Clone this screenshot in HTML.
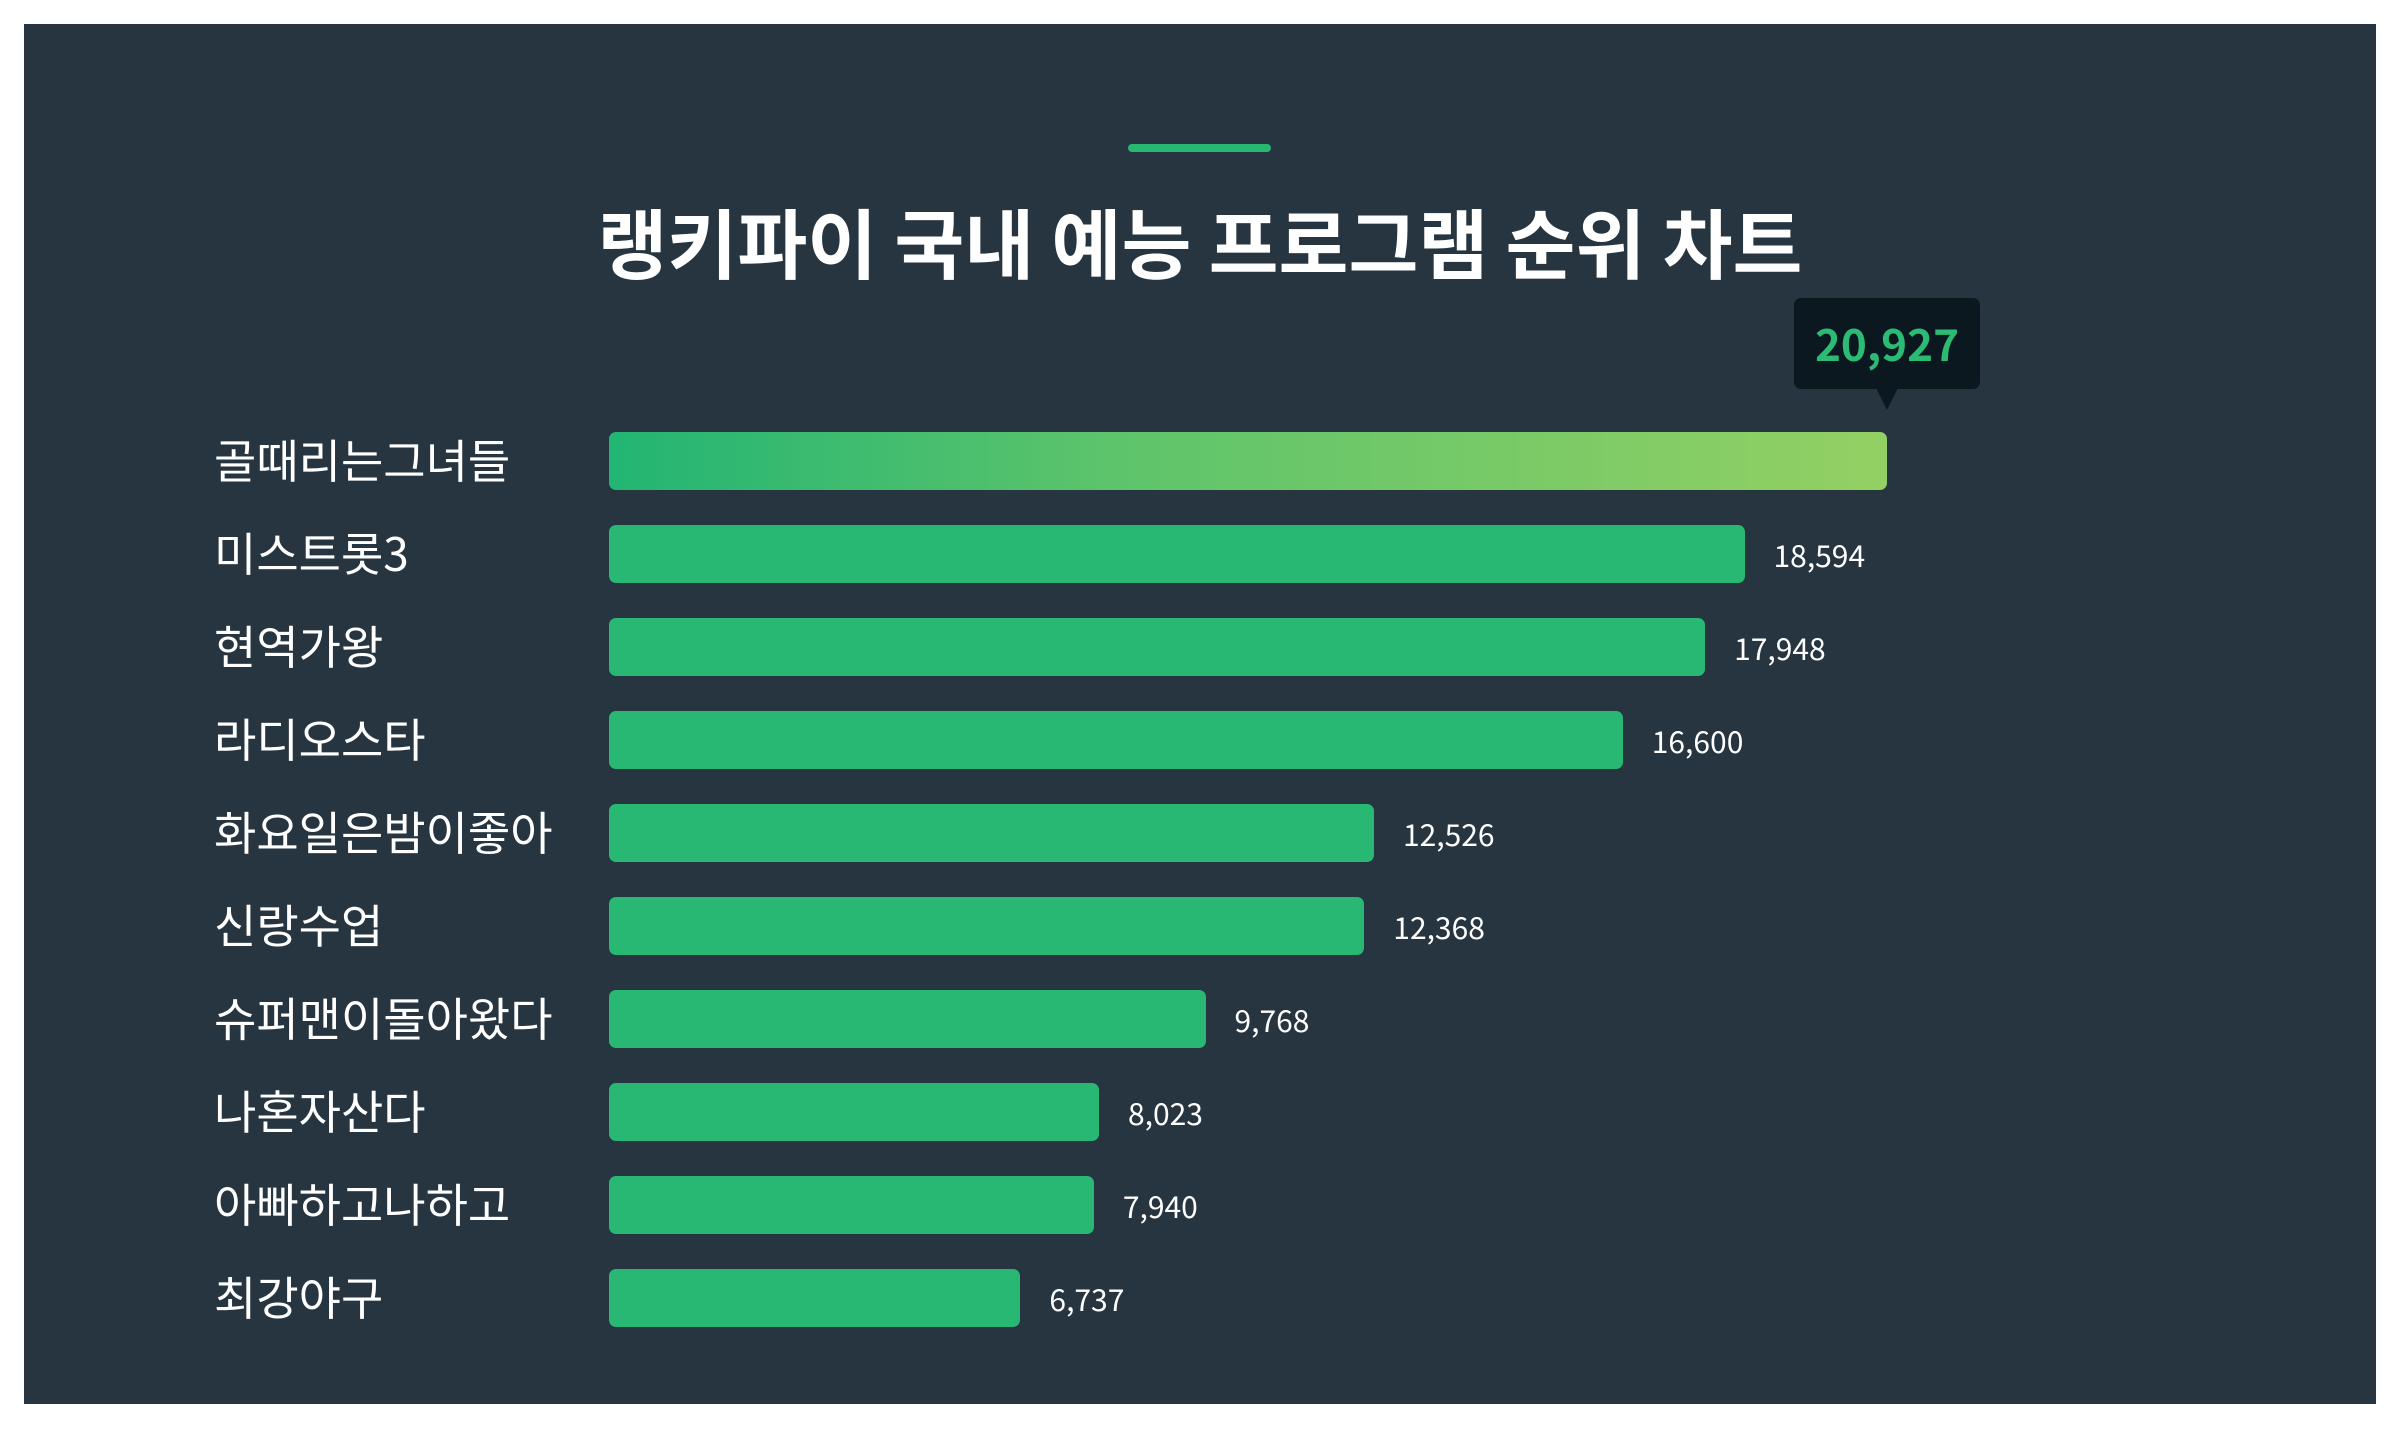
<!DOCTYPE html>
<html><head><meta charset="utf-8"><style>
html,body{margin:0;padding:0;background:#fff;}
body{width:2400px;height:1440px;position:relative;overflow:hidden;font-family:"Liberation Sans","Noto Sans CJK KR",sans-serif;}
#panel{position:absolute;left:24px;top:24px;width:2352px;height:1380px;background:#263540;}
#accent{position:absolute;left:1128px;top:144px;width:143px;height:8px;border-radius:4px;background:#27b872;}
#title{position:absolute;left:0;width:2400px;top:188px;text-align:center;color:#fff;font-size:76px;font-weight:bold;font-family:"Noto Sans CJK KR",sans-serif;line-height:104px;}
.lbl{position:absolute;left:214px;color:#fff;font-size:46px;font-family:"Noto Sans CJK KR",sans-serif;line-height:58px;}
.bar{position:absolute;border-radius:7px;background:#28b873;}
.val{position:absolute;color:#fff;font-size:30px;font-family:"Noto Sans CJK KR",sans-serif;line-height:58px;}
#tip{position:absolute;background:#0c1820;border-radius:7px;color:#2cbb74;font-weight:bold;font-size:44px;text-align:center;font-family:"Noto Sans CJK KR",sans-serif;}
#tipArrow{position:absolute;width:0;height:0;border-left:11px solid transparent;border-right:11px solid transparent;border-top:22px solid #0c1820;}
</style></head><body>
<div id="panel"></div>
<div id="accent"></div>
<div id="title">랭키파이 국내 예능 프로그램 순위 차트</div>
<div id="chart"></div>
<script>
const categories=["골때리는그녀들","미스트롯3","현역가왕","라디오스타","화요일은밤이좋아","신랑수업","슈퍼맨이돌아왔다","나혼자산다","아빠하고나하고","최강야구"];
const values=[20927,18594,17948,16600,12526,12368,9768,8023,7940,6737];
const valueLabels=["20,927","18,594","17,948","16,600","12,526","12,368","9,768","8,023","7,940","6,737"];
const X0=609, XMAX=20927, XW=1278;
function x(v){return X0+v/XMAX*XW;}
function y(i){return 432+i*93;}
const root=document.getElementById('chart');
categories.forEach((c,i)=>{
  const l=document.createElement('div');
  l.className='lbl';l.textContent=c;l.style.top=(y(i)-2)+'px';
  
  
  root.appendChild(l);
  const b=document.createElement('div');
  b.className='bar';b.style.left=X0+'px';b.style.top=y(i)+'px';b.style.height='58px';
  b.style.width=(x(values[i])-X0)+'px';
  if(i===0)b.style.background='linear-gradient(90deg,#22b573,#5ec46b 40%,#93d063)';
  
  
  root.appendChild(b);
  if(i>0){
    const v=document.createElement('div');
    v.className='val';v.textContent=valueLabels[i];
    v.style.left=(x(values[i])+29)+'px';v.style.top=y(i)+'px';
    
    
    root.appendChild(v);
  }
});
const tx=x(values[0]);
const t=document.createElement('div');
t.id='tip';t.textContent=valueLabels[0];
t.style.left=(tx-93)+'px';t.style.top='298px';t.style.width='186px';t.style.height='91px';t.style.lineHeight='88px';


root.appendChild(t);
const a=document.createElement('div');
a.id='tipArrow';a.style.left=(tx-11)+'px';a.style.top='388px';


root.appendChild(a);
</script>
</body></html>
